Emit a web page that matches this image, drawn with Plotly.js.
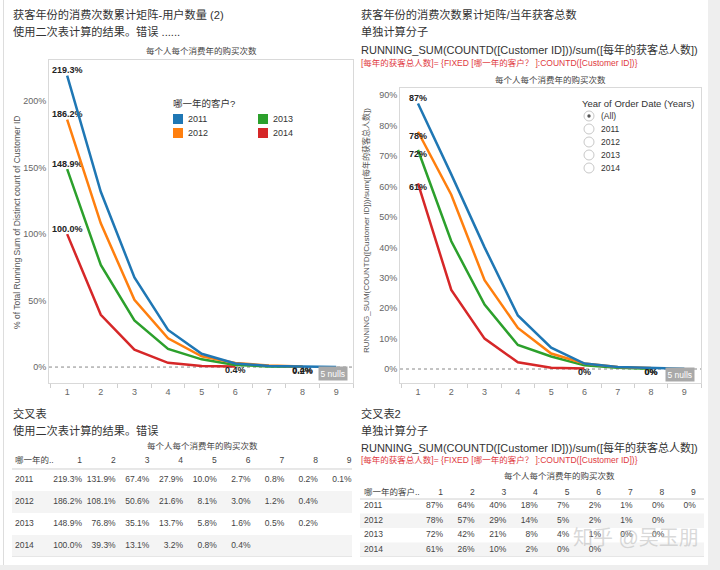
<!DOCTYPE html>
<html>
<head>
<meta charset="utf-8">
<script src="https://cdn.plot.ly/plotly-3.0.1.min.js"></script>
<style>html,body{margin:0;padding:0;background:#fff;}#chart{width:720px;height:570px;}</style>
</head>
<body>
<div id="chart"></div>
<script>
// ---------- data ----------
const years = ['2011', '2012', '2013', '2014'];
const purchaseCounts = [1, 2, 3, 4, 5, 6, 7, 8, 9];
const colTickLabels = ['1', '2', '3', '4', '5', '6', '7', '8', '9'];

// left chart / left table: % of total running sum of distinct customers
const pctTotal2011 = [219.3, 131.9, 67.4, 27.9, 10.0, 2.7, 0.8, 0.2, 0.1];
const pctTotal2012 = [186.2, 108.1, 50.6, 21.6, 8.1, 3.0, 1.2, 0.4];
const pctTotal2013 = [148.9, 76.8, 35.1, 13.7, 5.8, 1.6, 0.5, 0.2];
const pctTotal2014 = [100.0, 39.3, 13.1, 3.2, 0.8, 0.4];

// right chart / right table: running sum / yearly acquired customers
const ratio2011 = [87.3, 64.0, 40.0, 17.6, 7.0, 1.8, 0.7, 0.3, 0.1];
const ratio2012 = [78.0, 57.3, 29.2, 13.5, 5.1, 1.8, 0.7, 0.3];
const ratio2013 = [72.0, 42.0, 21.2, 7.9, 4.1, 1.2, 0.4, 0.1];
const ratio2014 = [61.0, 26.0, 10.0, 2.2, 0.4, 0.2];

const seriesColors = ['#1f77b4', '#ff7f0e', '#2ca02c', '#d62728'];
const filterOptions = ['(All)', '2011', '2012', '2013', '2014'];
const leftRowHeader = '哪一年的..';
const rightRowHeader = '哪一年的客户..';

// ---------- helpers ----------
const W = 720, H = 570;
const FONT = 'Liberation Sans, Arial, Noto Sans CJK SC, sans-serif';
const px = x => x / W;
const py = y => 1 - y / H;
function txt(text, x, y, o) {
  o = o || {};
  return {
    text: text, xref: 'paper', yref: 'paper', x: px(x), y: py(y),
    xanchor: o.xa || 'left', yanchor: o.ya || 'middle', showarrow: false,
    textangle: o.angle || 0,
    bgcolor: o.bg, borderpad: o.pad || 0,
    font: {family: FONT, size: o.size || 9, color: o.color || '#333', weight: o.weight || 'normal'}
  };
}

const leftSeries = [pctTotal2011, pctTotal2012, pctTotal2013, pctTotal2014];
const rightSeries = [ratio2011, ratio2012, ratio2013, ratio2014];
const leftFirstPos = ['top center', 'top center', 'top center', 'top center'];
const rightFirstPos = ['top center', 'bottom center', 'bottom center', 'bottom center'];
const labelFont = {family: FONT, size: 9, color: '#222', weight: 'bold'};

const traces = [];
for (let i = years.length - 1; i >= 0; i--) {
  const v = leftSeries[i];
  traces.push({
    type: 'scatter', mode: 'lines+text', xaxis: 'x', yaxis: 'y',
    x: purchaseCounts.slice(0, v.length), y: v, name: years[i],
    line: {color: seriesColors[i], width: 2.5},
    text: v.map((d, k) => (k === 0 || k === v.length - 1) ? d.toFixed(1) + '%' : ''),
    textposition: v.map((d, k) => k === 0 ? leftFirstPos[i] : 'bottom center'),
    textfont: labelFont, hoverinfo: 'x+y', showlegend: false
  });
}
for (let i = years.length - 1; i >= 0; i--) {
  const v = rightSeries[i];
  traces.push({
    type: 'scatter', mode: 'lines+text', xaxis: 'x2', yaxis: 'y2',
    x: purchaseCounts.slice(0, v.length), y: v, name: years[i],
    line: {color: seriesColors[i], width: 2.5},
    text: v.map((d, k) => (k === 0 || k === v.length - 1) ? Math.round(d) + '%' : ''),
    textposition: v.map((d, k) => k === 0 ? rightFirstPos[i] : 'bottom center'),
    textfont: labelFont, hoverinfo: 'x+y', showlegend: false
  });
}

// ---------- cross tables drawn as text marks on their own axes ----------
function addTable(xa, ya, series, fmt, rowHeader, headerY, labelX, fontSize) {
  const f = {family: FONT, size: fontSize, color: '#444'};
  // column header row
  traces.push({type: 'scatter', mode: 'text', xaxis: xa, yaxis: ya,
    x: [labelX].concat(purchaseCounts), y: [headerY].concat(purchaseCounts.map(() => headerY)),
    text: [rowHeader].concat(colTickLabels),
    textposition: ['middle right'].concat(purchaseCounts.map(() => 'middle left')),
    textfont: f, hoverinfo: 'skip', showlegend: false, cliponaxis: false});
  // row labels
  traces.push({type: 'scatter', mode: 'text', xaxis: xa, yaxis: ya,
    x: years.map(() => labelX), y: years.map((yr, r) => r), text: years,
    textposition: 'middle right', textfont: f, hoverinfo: 'skip', showlegend: false, cliponaxis: false});
  // cells
  series.forEach((s, r) => {
    traces.push({type: 'scatter', mode: 'text', xaxis: xa, yaxis: ya,
      x: purchaseCounts.slice(0, s.length), y: s.map(() => r), text: s.map(fmt),
      textposition: 'middle left', textfont: f, hoverinfo: 'skip', showlegend: false, cliponaxis: false});
  });
}
addTable('x3', 'y3', leftSeries, d => d.toFixed(1) + '%', leftRowHeader, -0.864, -0.99, 8.5);
addTable('x4', 'y4', rightSeries, d => Math.round(d) + '%', rightRowHeader, -0.897, -1.5, 8.5);

// ---------- axes ----------
function xAxis(domain) {
  return {
    domain: domain, range: [0.46, 9.5], tickmode: 'linear', tick0: 1, dtick: 1,
    showgrid: false, zeroline: false, showline: true, linecolor: '#d9d9d9', mirror: true,
    ticks: '', tickfont: {family: FONT, size: 9, color: '#666'},
    minor: {tickmode: 'linear', tick0: 0.5, dtick: 1, ticks: 'outside', ticklen: 4, tickcolor: '#cfcfcf', showgrid: false},
    fixedrange: true
  };
}
function yAxis(domain, range, vals, anchor) {
  return {
    domain: domain, range: range, tickmode: 'array', tickvals: vals, ticktext: vals.map(v => v + '%'),
    showgrid: false, zeroline: false, showline: true, linecolor: '#d9d9d9', mirror: true,
    ticks: '', tickfont: {family: FONT, size: 9, color: '#666'}, anchor: anchor, fixedrange: true
  };
}
function hiddenAxis(domain, range, anchor) {
  return {domain: domain, range: range, anchor: anchor, visible: false, showgrid: false, zeroline: false, fixedrange: true};
}

const layout = {
  width: W, height: H, margin: {l: 0, r: 0, t: 0, b: 0},
  paper_bgcolor: '#ffffff', plot_bgcolor: '#ffffff', showlegend: false,
  font: {family: FONT},
  xaxis: Object.assign(xAxis([px(49), px(353)]), {anchor: 'y'}),
  yaxis: yAxis([py(383), py(60)], [-12, 231], [0, 50, 100, 150, 200], 'x'),
  xaxis2: Object.assign(xAxis([px(400), px(701)]), {anchor: 'y2'}),
  yaxis2: yAxis([py(383), py(88)], [-4.6, 92.4], [0, 10, 20, 30, 40, 50, 60, 70, 80, 90], 'x2'),
  // left table: column k right edge at 82 + 33.7*(k-1) px
  xaxis3: hiddenAxis([px(12), px(352)], [-1.077, 9.012], 'y3'),
  yaxis3: hiddenAxis([py(557), py(453)], [3.5, -1.227], 'x3'),
  // right table: column k right edge at 443 + 31.6*(k-1) px
  xaxis4: hiddenAxis([px(360), px(704)], [-1.627, 9.259], 'y4'),
  yaxis4: hiddenAxis([py(557), py(485)], [3.5, -1.466], 'x4'),
  shapes: [],
  annotations: []
};

const S = layout.shapes, A = layout.annotations;
// frame / background strips
S.push({type: 'rect', xref: 'paper', yref: 'paper', x0: px(708), x1: 1, y0: 0, y1: 1, fillcolor: '#eeeeee', line: {width: 0}, layer: 'below'});
S.push({type: 'rect', xref: 'paper', yref: 'paper', x0: 0, x1: 1, y0: 0, y1: py(565), fillcolor: '#eeeeee', line: {width: 0}, layer: 'below'});
S.push({type: 'line', xref: 'paper', yref: 'paper', x0: px(3.5), x1: px(3.5), y0: py(565), y1: 1, line: {color: '#dddddd', width: 1}});
// zero reference lines
S.push({type: 'line', xref: 'x domain', yref: 'y', x0: 0, x1: 1, y0: 0, y1: 0, line: {color: '#888', width: 1, dash: 'dot'}, layer: 'below'});
S.push({type: 'line', xref: 'x2 domain', yref: 'y2', x0: 0, x1: 1, y0: 0, y1: 0, line: {color: '#888', width: 1, dash: 'dot'}, layer: 'below'});
// table banding (2012 and 2014 rows) and rules
[['x3', 'y3'], ['x4', 'y4']].forEach(([xa, ya]) => {
  [1, 3].forEach(r => S.push({type: 'rect', xref: xa + ' domain', yref: ya, x0: 0, x1: 1, y0: r - 0.5, y1: r + 0.5,
    fillcolor: '#f4f4f4', line: {width: 0}, layer: 'below'}));
  S.push({type: 'line', xref: xa + ' domain', yref: ya, x0: 0, x1: 1, y0: -0.5, y1: -0.5, line: {color: '#d0d0d0', width: 1}});
  S.push({type: 'line', xref: xa + ' domain', yref: ya, x0: 0, x1: 1, y0: 3.5, y1: 3.5, line: {color: '#d8d8d8', width: 1}});
});

// titles
A.push(txt('获客年份的消费次数累计矩阵-用户数量 (2)', 12, 15, {size: 11.2, color: '#333'}));
A.push(txt('使用二次表计算的结果。错误 ......', 12, 32, {size: 11.2, color: '#333'}));
A.push(txt('获客年份的消费次数累计矩阵/当年获客总数', 360, 15, {size: 11.2, color: '#333'}));
A.push(txt('单独计算分子', 360, 32, {size: 11.2, color: '#333'}));
A.push(txt('RUNNING_SUM(COUNTD([Customer ID]))/sum([每年的获客总人数])', 360, 49, {size: 11, color: '#333'}));
A.push(txt('[每年的获客总人数]= {FIXED [哪一年的客户？ ]:COUNTD([Customer ID])}', 360, 63, {size: 8.5, color: '#e0393e'}));
A.push(txt('交叉表', 12, 413, {size: 11.2, color: '#333'}));
A.push(txt('使用二次表计算的结果。错误', 12, 430, {size: 11.2, color: '#333'}));
A.push(txt('交叉表2', 360, 413, {size: 11.2, color: '#333'}));
A.push(txt('单独计算分子', 360, 430, {size: 11.2, color: '#333'}));
A.push(txt('RUNNING_SUM(COUNTD([Customer ID]))/sum([每年的获客总人数])', 360, 447, {size: 11, color: '#333'}));
A.push(txt('[每年的获客总人数]= {FIXED [哪一年的客户？ ]:COUNTD([Customer ID])}', 360, 460, {size: 8.5, color: '#e0393e'}));

// column header titles
A.push(txt('每个人每个消费年的购买次数', 201, 51, {xa: 'center', size: 8.5, color: '#444'}));
A.push(txt('每个人每个消费年的购买次数', 550, 80, {xa: 'center', size: 8.5, color: '#444'}));
A.push(txt('每个人每个消费年的购买次数', 202, 446, {xa: 'center', size: 8.5, color: '#444'}));
A.push(txt('每个人每个消费年的购买次数', 559, 476, {xa: 'center', size: 8.5, color: '#444'}));

// y axis titles
A.push(txt('% of Total Running Sum of Distinct count of Customer ID', 17, 223, {xa: 'center', angle: -90, size: 8.5, color: '#555'}));
A.push(txt('RUNNING_SUM(COUNTD([Customer ID]))/sum([每年的获客总人数])', 366, 231, {xa: 'center', angle: -90, size: 8, color: '#555'}));

// null indicators
A.push(txt('5 nulls', 333, 373, {xa: 'center', size: 8.5, color: '#ffffff', bg: '#a9a9a9', pad: 1.5}));
A.push(txt('5 nulls', 680, 374, {xa: 'center', size: 8.5, color: '#ffffff', bg: '#a9a9a9', pad: 1.5}));

// left colour legend
A.push(txt('哪一年的客户?', 172, 103, {size: 9.5, color: '#333'}));
const legPos = [[173, 119], [173, 133], [258, 119], [258, 133]];
years.forEach((yr, i) => {
  const [lx, ly] = legPos[i];
  S.push({type: 'rect', xref: 'paper', yref: 'paper', x0: px(lx), x1: px(lx + 10), y0: py(ly + 5), y1: py(ly - 5),
    fillcolor: seriesColors[i], line: {width: 0}});
  A.push(txt(yr, lx + 14, ly, {size: 9, color: '#333'}));
});

// right filter card
A.push(txt('Year of Order Date (Years)', 581, 103, {size: 9.5, color: '#333'}));
filterOptions.forEach((opt, i) => {
  const cy = 116 + i * 13;
  S.push({type: 'circle', xref: 'paper', yref: 'paper', x0: px(584), x1: px(594), y0: py(cy + 5), y1: py(cy - 5),
    fillcolor: '#ffffff', line: {color: '#c8c8c8', width: 1}});
  if (i === 0) {
    S.push({type: 'circle', xref: 'paper', yref: 'paper', x0: px(587.3), x1: px(590.7), y0: py(cy + 1.7), y1: py(cy - 1.7),
      fillcolor: '#555', line: {width: 0}});
  }
  A.push(txt(opt, 600, cy, {size: 8.5, color: '#333'}));
});

// watermark
A.push(txt('知乎 @吴玉朋', 636, 538, {xa: 'center', size: 20, color: 'rgba(185,185,185,0.55)'}));

Plotly.newPlot('chart', traces, layout, {displayModeBar: false, staticPlot: true});
</script>
</body>
</html>
